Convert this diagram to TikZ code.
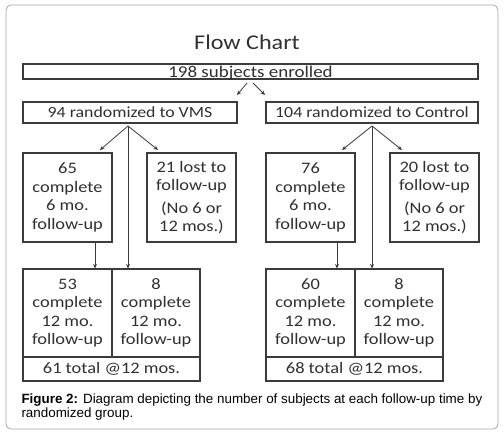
\documentclass[tikz,border=0pt]{standalone}
\usepackage{fontspec}
\setmainfont{Carlito}[FakeStretch=1.15]
\newfontfamily\capfont{Liberation Sans}
\usepackage{tikz}
\usetikzlibrary{arrows.meta}

\definecolor{boxline}{HTML}{3C3C3C}
\definecolor{boxtext}{HTML}{303030}

\tikzset{
  cell/.style={draw=boxline, line width=1.1pt, inner sep=0pt, align=center,
    text=boxtext, font=\fontsize{16}{18.5}\selectfont},
  bar/.style={cell, font=\fontsize{17}{19}\selectfont, text height=10.6pt, text depth=0pt},
  flow/.style={draw=boxline, line width=0.8pt, -{Stealth[length=4.5pt,width=4pt]}}
}

\begin{document}
\begin{tikzpicture}[x=1pt,y=-1pt] %pixel grid, y down
\useasboundingbox (0,0) rectangle (504,435);
\draw[rounded corners=5pt, draw=black!35, line width=0.8pt] (6,5) rectangle (498,429);

\node[text=boxtext, font=\fontsize{21}{23}\selectfont] (title) at (247,42) {Flow Chart};

% first two levels
\node[bar, font=\fontsize{16.5}{18}\selectfont, text height=12.4pt,
  minimum width=455pt, minimum height=15pt] (enrolled) at (250.5,71.5) {198 subjects enrolled};
\node[bar, font=\fontsize{15.5}{18}\selectfont, text height=9.8pt,
  minimum width=214pt, minimum height=21pt] (vms) at (130,112.5) {94 randomized to VMS};
\node[bar, font=\fontsize{15.5}{18}\selectfont, text height=9.8pt,
  minimum width=212pt, minimum height=21pt] (control) at (372,112.5) {104 randomized to Control};

\coordinate (esplit) at (250,83);
\coordinate (vsplit) at (128,126);
\coordinate (csplit) at (372,126);

\draw[flow] (esplit) ++(-3,0) -- (237,95);
\draw[flow] (esplit) ++(3,0) -- (265,95);

% 6 month level
\foreach \cx/\nm/\num/\lost in {67.5/vms/65/21, 310.5/ctl/76/20} {
\node[cell, minimum width=89pt, minimum height=89pt] (\nm six) at (\cx,197.5)
  {\num\\complete\\6 mo.\\follow-up};
\node[cell, minimum width=89pt, minimum height=89pt] (\nm lost) at (\cx+124,197.5)
  {\lost\ lost to\\follow-up\\[4pt](No 6 or\\12 mos.)};
}

% 12 month level
\foreach \cx/\nm/\num/\late/\tot in {23/vms/53/8/61, 266/ctl/60/8/68} {
\node[cell, minimum width=89pt, minimum height=88pt] (\nm a) at (\cx+44.5,313)
  {\num\\complete\\12 mo.\\follow-up};
\node[cell, minimum width=88pt, minimum height=88pt] (\nm b) at (\cx+133,313)
  {\late\\complete\\12 mo.\\follow-up};
\node[cell, minimum width=177pt, minimum height=24pt] (\nm tot) at (\cx+88.5,369)
  {\tot\ total @12 mos.};
}

% connectors
\draw[flow] (vsplit) -- (100,150);
\draw[flow] (vsplit) -- (158,150);
\draw[flow] (vsplit) -- (vsplit |- vmsa.north);
\draw[flow] (vmssix.south -| 95,0) -- (vmsa.north -| 95,0);

\draw[flow] (csplit) -- (342,150);
\draw[flow] (csplit) -- (402,150);
\draw[flow] (csplit) -- (csplit |- ctla.north);
\draw[flow] (ctlsix.south -| 337,0) -- (ctla.north -| 337,0);

% caption
\node[anchor=base west, font=\capfont\fontsize{13.4}{15}\selectfont] (cap1) at (18,404)
  {\textbf{Figure 2:} Diagram depicting the number of subjects at each follow-up time by};
\node[anchor=base west, font=\capfont\fontsize{13.4}{15}\selectfont] (cap2) at (18,418)
  {randomized group.};
\end{tikzpicture}
\end{document}
